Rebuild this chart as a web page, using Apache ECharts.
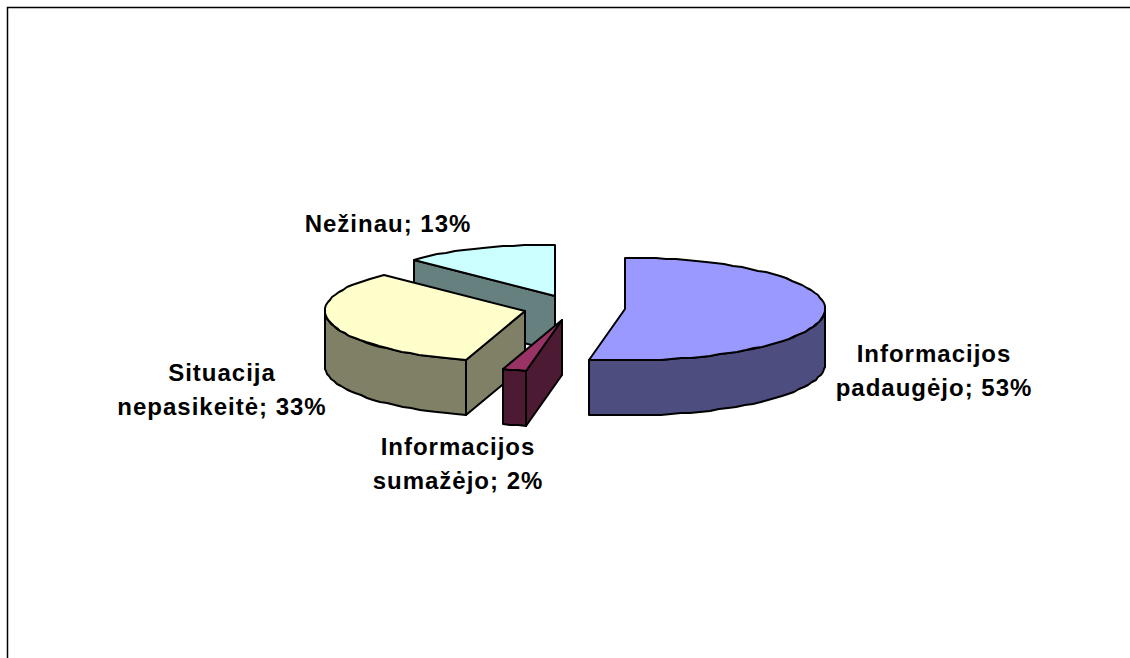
<!DOCTYPE html>
<html>
<head>
<meta charset="utf-8">
<style>
html, body { margin: 0; padding: 0; background: #fff; }
#chart { width: 1130px; height: 658px; }
#chart text { letter-spacing: 1px; }
</style>
<script src="https://cdn.jsdelivr.net/npm/echarts@6/dist/echarts.min.js"></script>
</head>
<body>
<div id="chart"></div>
<script>
// slice shares in percent, clockwise from 12 o'clock
const categories = ['Informacijos\npadaugėjo', 'Informacijos\nsumažėjo', 'Situacija\nnepasikeitė', 'Nežinau']
const values = [52.9, 1.9, 32.7, 12.5]
const topColors = ['#9999ff', '#993366', '#ffffcc', '#ccffff']
const sideColors = ['#4d4d80', '#4d1a33', '#808066', '#668080']

// layout of the fake 3d pie
const centerX = 574.5
const centerY = 308
const radiusX = 200
const radiusY = 51.5
const depth = 55
const explode = 50.7
const labelPos = [[934, 370], [458, 463], [222, 389], [388, 223]]

const total = values.reduce((a, b) => a + b, 0)
const startAngles = []
values.reduce((sum, v, i) => { startAngles[i] = sum / total * 360; return sum + v }, 0)

const rad = a => a * Math.PI / 180
function arcPoints (cx, cy, from, to) {
    const pts = []
    const steps = Math.max(1, Math.ceil((to - from) / 3))
    for (let i = 0; i <= steps; i++) {
        const a = rad(from + (to - from) * i / steps)
        // whole pixels, the original outline is a coarse polyline too
        pts.push([Math.round(cx + radiusX * Math.sin(a)), Math.round(cy - radiusY * Math.cos(a))])
    }
    return pts
}
function face (pts, color, z2) {
    return {
        type: 'polygon',
        z2: z2,
        shape: { points: pts },
        style: { fill: color, stroke: '#000', lineWidth: 2, lineJoin: 'round' }
    }
}
function wall (pts, color, z2) {
    const down = pts.slice().reverse().map(p => [p[0], p[1] + depth])
    return face(pts.concat(down), color, z2)
}

function renderSlice (params, api) {
    const i = params.dataIndex
    const from = startAngles[i]
    const to = from + api.value(0) / total * 360
    const mid = rad((from + to) / 2)
    const cx = Math.round(centerX + explode * Math.sin(mid))
    const cy = Math.round(centerY - explode * 0.25 * Math.cos(mid))
    const arc = arcPoints(cx, cy, from, to)
    const base = (values.length - i) * 10 // back slices first
    const side = sideColors[i]
    const children = []
    // radial walls, only when they face the viewer
    if (Math.sin(rad(from)) < -1e-6) children.push(wall([[cx, cy], arc[0]], side, base))
    if (Math.sin(rad(to)) > 1e-6) children.push(wall([[cx, cy], arc[arc.length - 1]], side, base))
    // outer wall, front half only
    const frontFrom = Math.max(from, 90)
    const frontTo = Math.min(to, 270)
    if (frontTo > frontFrom) children.push(wall(arcPoints(cx, cy, frontFrom, frontTo), side, base + 1))
    children.push(face([[cx, cy]].concat(arc), topColors[i], base + 2))
    children.push({
        type: 'text',
        z2: 100,
        style: {
            text: categories[i] + '; ' + Math.round(api.value(0)) + '%',
            x: labelPos[i][0],
            y: labelPos[i][1],
            fill: '#000',
            font: 'bold 24px "Liberation Sans", Arial, sans-serif',
            lineHeight: 34,
            align: 'center',
            verticalAlign: 'middle'
        }
    })
    return { type: 'group', children: children }
}

const chart = echarts.init(document.getElementById('chart'), null, { renderer: 'svg' })
chart.setOption({
    animation: false,
    backgroundColor: '#fff',
    graphic: [{
        type: 'polyline',
        shape: { points: [[7.5, 658], [7.5, 7.5], [1130, 7.5]] },
        style: { stroke: '#000', lineWidth: 1.5, fill: null }
    }],
    series: [{
        type: 'custom',
        coordinateSystem: 'none',
        data: values.map(v => [v]),
        renderItem: renderSlice,
        silent: true
    }]
})
</script>
</body>
</html>
